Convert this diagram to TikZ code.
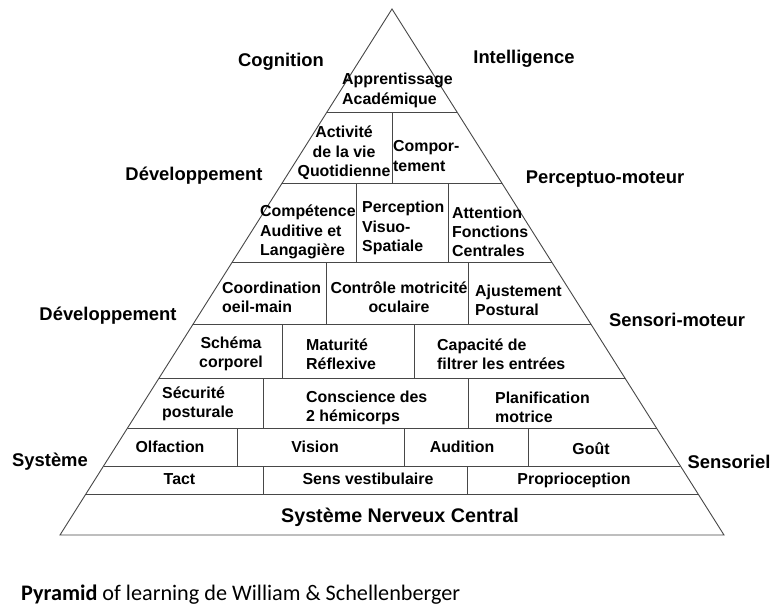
\documentclass[tikz,border=0pt]{standalone}
\usepackage{fontspec}
\setmainfont{Liberation Sans}
\newfontfamily\capfont{Carlito}
\begin{document}
\begin{tikzpicture}[x=1pt,y=-1pt,
  edge/.style={draw=black!72,line width=0.9pt,line join=miter},
  divider/.style={draw=black!72,line width=0.9pt},
  boxtxt/.style={inner sep=0pt,font=\bfseries\fontsize{15.9}{19.3}\selectfont,text=black},
  lt/.style={boxtxt,anchor=west,align=left},
  ct/.style={boxtxt,anchor=center,align=center},
  one/.style={ct,text height=11.4pt,text depth=3.3pt},
  side/.style={inner sep=0pt,font=\bfseries\fontsize{18.4}{22}\selectfont,text=black},
  basetxt/.style={inner sep=0pt,font=\bfseries\fontsize{19.7}{23}\selectfont,text=black},
  captxt/.style={inner sep=0pt,anchor=west,font=\capfont\fontsize{22.2}{26}\selectfont}]
\useasboundingbox[fill=white] (0,0) rectangle (782,608);
% outline
\coordinate (apex) at (392,9);
\coordinate (bl) at (60,535);
\coordinate (br) at (724,535);
\draw[edge] (apex) -- (bl) -- (br) -- cycle;
% horizontal levels
\draw[divider] (327.0,112) -- (457.0,112);
\draw[divider] (282.2,183) -- (501.8,183);
\draw[divider] (232.3,262) -- (551.7,262);
\draw[divider] (193.2,324) -- (590.8,324);
\draw[divider] (159.1,378) -- (624.9,378);
\draw[divider] (127.5,428) -- (656.5,428);
\draw[divider] (103.6,466) -- (680.4,466);
\draw[divider] (85.9,494) -- (698.1,494);
% vertical dividers
\draw[divider] (392,112) -- (392,183);
\draw[divider] (356,183) -- (356,262);
\draw[divider] (448,183) -- (448,262);
\draw[divider] (326,262) -- (326,324);
\draw[divider] (468,262) -- (468,324);
\draw[divider] (282,324) -- (282,378);
\draw[divider] (414,324) -- (414,378);
\draw[divider] (263,378) -- (263,428);
\draw[divider] (468,378) -- (468,428);
\draw[divider] (237,428) -- (237,466);
\draw[divider] (404,428) -- (404,466);
\draw[divider] (528,428) -- (528,466);
\draw[divider] (263,466) -- (263,494);
\draw[divider] (467,466) -- (467,494);
% box texts
\node[lt] (t1) at (342,90.5) {Apprentissage\\Académique};
\node[ct] (t2) at (344,153) {Activité\\de la vie\\Quotidienne};
\node[lt] (t3) at (393,156) {Compor-\\tement};
\node[lt] (t4) at (260,232) {Compétence\\Auditive et\\Langagière};
\node[lt] (t5) at (362,228) {Perception\\Visuo-\\Spatiale};
\node[lt] (t6) at (452,232) {Attention\\Fonctions\\Centrales};
\node[lt] (t7) at (222,297) {Coordination\\oeil-main};
\node[ct] (t8) at (399,297) {Contrôle motricité\\oculaire};
\node[lt] (t9) at (475,300) {Ajustement\\Postural};
\node[ct] (t10) at (231,354) {Schéma\\corporel};
\node[lt] (t11) at (306,354) {Maturité\\Réflexive};
\node[lt] (t12) at (437,354) {Capacité de\\filtrer les entrées};
\node[lt] (t13) at (162,403.5) {Sécurité\\posturale};
\node[lt] (t14) at (306,408) {Conscience des\\2 hémicorps};
\node[lt] (t15) at (495,407.5) {Planification\\motrice};
\node[one] (t16) at (170,448) {Olfaction};
\node[one] (t17) at (315,448) {Vision};
\node[one] (t18) at (462,448) {Audition};
\node[one] (t19) at (591,450) {Goût};
\node[one] (t20) at (179.5,480) {Tact};
\node[one] (t21) at (368,480) {Sens vestibulaire};
\node[one] (t22) at (574,480) {Proprioception};
\node[basetxt] (t23) at (400,517) {Système Nerveux Central};
% side labels
\node[side] (s1) at (281,62) {Cognition};
\node[side] (s2) at (524,59) {Intelligence};
\node[side] (s3) at (194,176) {Développement};
\node[side] (s4) at (605,179) {Perceptuo-moteur};
\node[side] (s5) at (108,316) {Développement};
\node[side] (s6) at (677,320) {Sensori-moteur};
\node[side] (s7) at (50,462) {Système};
\node[side] (s8) at (729,462) {Sensoriel};
% caption
\node[captxt] (cap) at (21,595) {\textbf{Pyramid} of learning de William \& Schellenberger};
\end{tikzpicture}
\end{document}
